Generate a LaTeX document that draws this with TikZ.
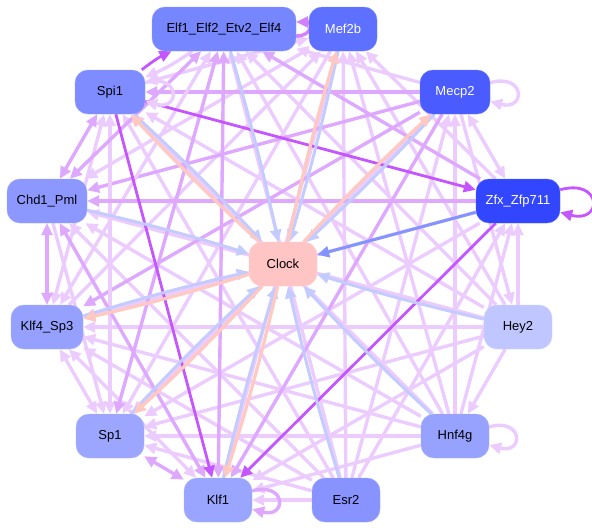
\documentclass[tikz,border=0pt]{standalone}
\usepackage{fontspec}
\setmainfont{Liberation Sans}
\usetikzlibrary{arrows.meta}
\definecolor{lightpurple}{RGB}{236,204,255}
\definecolor{midpurple}{RGB}{222,168,255}
\definecolor{strongpurple}{RGB}{197,85,255}
\definecolor{paleblue}{RGB}{196,203,255}
\definecolor{deepblue}{RGB}{132,148,255}
\definecolor{peach}{RGB}{255,200,192}
\pgfdeclarelayer{edges}
\pgfsetlayers{edges,main}

\begin{document}
\begin{tikzpicture}[x=1pt, y=-1pt,
  tf/.style={draw=#1!85!white, fill=#1, rounded corners=13pt,
    minimum width=68pt, minimum height=44pt, inner sep=2pt,
    font=\fontsize{13}{15}\selectfont},
  lp/.style={-{Triangle[length=12pt,width=11pt]}, line width=3.4pt, lightpurple},
  mp/.style={-{Triangle[length=12pt,width=11pt]}, line width=3.4pt, midpurple},
  sp/.style={-{Triangle[length=12pt,width=11pt]}, line width=2.8pt, strongpurple},
  tb/.style={-{Triangle[length=12pt,width=11pt]}, line width=3pt, paleblue},
  pc/.style={-{Triangle[length=12pt,width=11pt]}, line width=3.2pt, peach},
  both/.style={{Triangle[length=12pt,width=11pt]}-{Triangle[length=12pt,width=11pt]}}
]
  \useasboundingbox (0,0) rectangle (592,530);

  % colours of the nodes
  \definecolor{cElf}{RGB}{118,134,255}
  \definecolor{cMef}{RGB}{93,112,255}
  \definecolor{cSpi}{RGB}{127,140,255}
  \definecolor{cMecp}{RGB}{74,92,255}
  \definecolor{cChd}{RGB}{140,152,255}
  \definecolor{cZfx}{RGB}{51,70,255}
  \definecolor{cClock}{RGB}{255,196,196}
  \definecolor{cKlf}{RGB}{150,161,255}
  \definecolor{cHey}{RGB}{192,198,255}
  \definecolor{cSp}{RGB}{156,166,255}
  \definecolor{cHnf}{RGB}{151,162,255}
  \definecolor{cKlfa}{RGB}{154,165,255}
  \definecolor{cEsr}{RGB}{136,147,255}

  \node[tf=cElf, minimum width=144pt] (elf) at (224,29) {Elf1\_Elf2\_Etv2\_Elf4};
  \node[tf=cMef, text=white] (mef) at (343,29) {Mef2b};
  \node[tf=cSpi, minimum width=70pt] (spi) at (110,92) {Spi1};
  \node[tf=cMecp, text=white, minimum width=70pt] (mecp) at (455,92) {Mecp2};
  \node[tf=cChd, minimum width=80pt] (chd) at (47,201) {Chd1\_Pml};
  \node[tf=cZfx, text=white, minimum width=84pt] (zfx) at (518,201) {Zfx\_Zfp711};
  \node[tf=cClock] (clock) at (283,264) {Clock};
  \node[tf=cKlf, minimum width=72pt] (klf4) at (47,327) {Klf4\_Sp3};
  \node[tf=cHey] (hey) at (518,327) {Hey2};
  \node[tf=cSp] (sp1) at (110,436) {Sp1};
  \node[tf=cHnf] (hnf) at (455,436) {Hnf4g};
  \node[tf=cKlfa] (klf1) at (218,500) {Klf1};
  \node[tf=cEsr] (esr) at (346,500) {Esr2};

  \coordinate (elfa) at ([yshift=-7pt]elf.east);
  \coordinate (elfb) at ([yshift=7pt]elf.east);

  \begin{pgfonlayer}{edges}
    % one-way edges
    \foreach \a/\b in {mecp/elf, hey/elf, hnf/elf, esr/elf,
        zfx/mef, hey/mef, hnf/mef, esr/mef, mef/klf1, mef/sp1, klf4/mef, mef/chd,
        mecp/hey, hnf/mecp, esr/mecp, mecp/sp1,
        hey/zfx, hnf/zfx, esr/zfx, zfx/sp1, zfx/klf4,
        hey/hnf, hey/klf1, hey/sp1, hey/klf4, hey/chd, hey/spi,
        hnf/klf1, hnf/sp1, hnf/klf4, hnf/chd, hnf/spi,
        esr/klf1, esr/sp1, esr/klf4, esr/chd, esr/spi, chd/sp1}
      \draw[lp] (\a) -- (\b);
    \foreach \a/\b in {zfx/elf, mecp/klf1, mecp/klf4, mecp/chd, mecp/spi}
      \draw[mp] (\a) -- (\b);
    % two-way edges
    \foreach \a/\b in {elf/klf4, mef/spi, mecp/zfx, klf1/klf4, sp1/klf4, sp1/spi, klf4/spi}
      \draw[lp, both] (\a) -- (\b);
    \foreach \a/\b in {elf/klf1, elf/sp1, elf/chd, klf1/sp1, klf1/chd, klf4/chd, chd/spi}
      \draw[mp, both] (\a) -- (\b);
    \draw[mp, line width=4.6pt] (zfx) -- (chd);
    \draw[lp] (elf) to[bend left=6] (spi);
    \draw[sp] (spi) to[bend left=6] (elf);
    \foreach \a/\b in {zfx/klf1, spi/klf1, spi/zfx}
      \draw[sp] (\a) -- (\b);
    % edges into and out of Clock
    \foreach \a in {elf, mef, spi, mecp, chd, klf4, hey, sp1, hnf, klf1, esr}
      \draw[tb] (\a) to[bend left=2] (clock);
    \draw[tb, deepblue] (zfx) -- (clock);
    \foreach \b in {spi, mef, mecp, klf4, sp1, klf1}
      \draw[pc] (clock) to[bend left=2] (\b);
    % self loops
    \draw[mp, draw=strongpurple!75!white] (elfa) to[out=0,in=0,looseness=3] (elfb);
    \draw[lp] (spi) to[out=15,in=-15,looseness=5] (spi);
    \draw[lp] (mecp) to[out=15,in=-15,looseness=5] (mecp);
    \draw[sp] (zfx) to[out=15,in=-15,looseness=5] (zfx);
    \draw[lp] (hnf) to[out=15,in=-15,looseness=5] (hnf);
    \draw[mp] (klf1) to[out=15,in=-15,looseness=5] (klf1);
  \end{pgfonlayer}
\end{tikzpicture}
\end{document}
